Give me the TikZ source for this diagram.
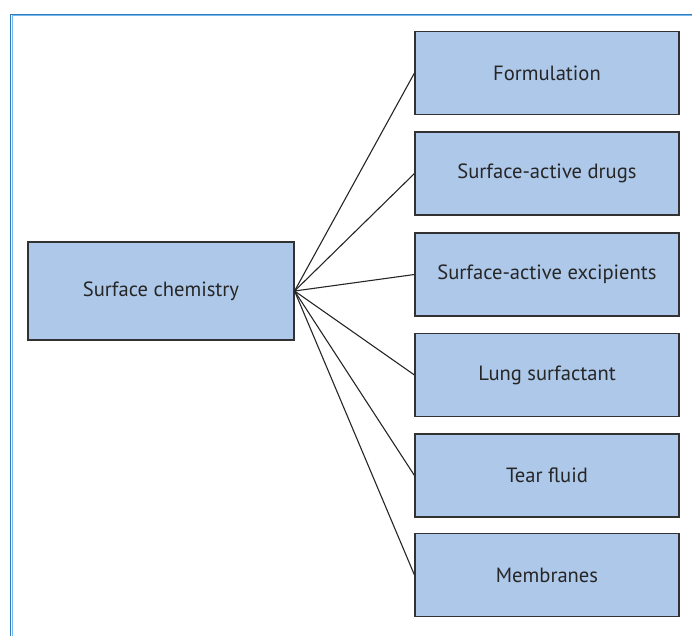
\documentclass[tikz,border=0pt]{standalone}
\usepackage{fontspec}
\setmainfont{PT Sans}
\definecolor{boxfill}{RGB}{174,200,233}
\definecolor{boxline}{RGB}{50,50,50}
\definecolor{framedark}{RGB}{46,125,192}
\definecolor{framelight}{RGB}{120,185,235}
\tikzset{
  topicbox/.style={draw=boxline, line width=1.1pt, fill=boxfill, minimum width=264pt, minimum height=83pt, inner sep=0pt, font=\fontsize{20.6}{24}\selectfont, text=black!85},
  spoke/.style={line width=1.1pt, draw=black!85}
}
\begin{document}
\begin{tikzpicture}[x=1pt,y=-1pt]
\useasboundingbox (0,0) rectangle (692,636);
% frame
\draw[framedark, line width=1.6pt] (10.5,636) -- (10.5,14.5) -- (692,14.5);
\draw[framelight, line width=1pt] (12,636) -- (12,16) -- (692,16);

\node[topicbox, minimum width=266pt, minimum height=98pt] (chem) at (161,291) {Surface chemistry};

\node[topicbox] (form)  at (547,73)  {Formulation};
\node[topicbox] (drugs) at (547,173.5) {Surface-active drugs};
\node[topicbox] (excip) at (547,274.5) {Surface-active excipients};
\node[topicbox] (lung)  at (547,375) {Lung surfactant};
\node[topicbox] (tear)  at (547,475.5) {Tear fluid};
\node[topicbox] (memb)  at (547,575) {Membranes};

\foreach \t in {form,drugs,excip,lung,tear,memb}
{
	\draw[spoke] (chem.east) -- (\t.west);
}
\end{tikzpicture}
\end{document}
